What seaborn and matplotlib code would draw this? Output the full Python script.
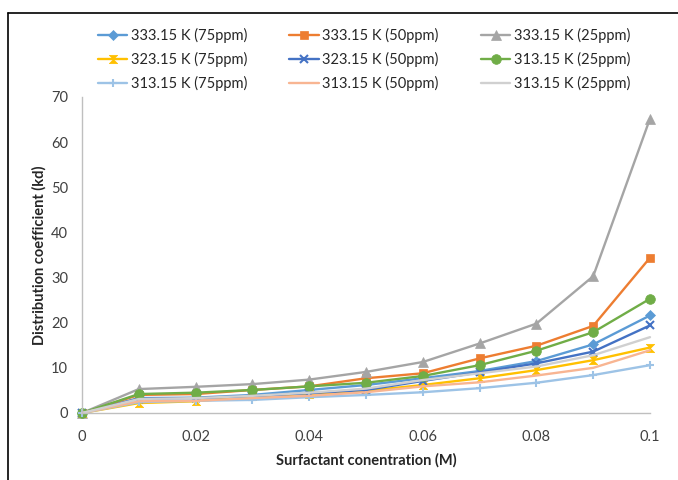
import numpy as np
import pandas as pd
import matplotlib
matplotlib.use('Agg')
import matplotlib.pyplot as plt
from matplotlib.path import Path
from matplotlib.lines import Line2D
import seaborn as sns

# Surfactant concentration (M)
conc = [0, 0.01, 0.02, 0.03, 0.04, 0.05, 0.06, 0.07, 0.08, 0.09, 0.1]

# Distribution coefficient (kd)
k333_75 = [0, 3.3, 3.4, 4.0, 5.1, 6.2, 7.7, 9.3, 11.5, 15.2, 21.6]
k333_50 = [0, 4.0, 4.2, 5.1, 5.9, 7.7, 8.8, 12.1, 14.9, 19.3, 34.4]
k333_25 = [0, 5.3, 5.8, 6.4, 7.4, 9.1, 11.3, 15.4, 19.8, 30.3, 65.2]
k323_75 = [0, 2.2, 2.6, 3.7, 4.2, 4.9, 6.2, 7.7, 9.5, 11.7, 14.5]
k323_50 = [0, 3.2, 3.3, 3.7, 4.4, 5.1, 7.1, 9.0, 11.0, 13.6, 19.4]
k313_25 = [0, 4.2, 4.5, 5.1, 5.9, 6.7, 8.2, 10.6, 13.8, 17.9, 25.3]
k313_75 = [0, 2.4, 2.7, 2.9, 3.5, 4.0, 4.6, 5.5, 6.7, 8.4, 10.6]
k313_50 = [0, 2.6, 2.7, 3.3, 3.8, 4.6, 5.9, 6.8, 8.3, 10.0, 13.9]
k313_25b = [0, 3.1, 3.3, 3.8, 4.5, 5.4, 7.3, 8.8, 10.3, 12.8, 16.8]

labels = ['333.15 K (75ppm)', '333.15 K (50ppm)', '333.15 K (25ppm)',
          '323.15 K (75ppm)', '323.15 K (50ppm)', '313.15 K (25ppm)',
          '313.15 K (75ppm)', '313.15 K (50ppm)', '313.15 K (25ppm)']
values = [k333_75, k333_50, k333_25, k323_75, k323_50, k313_25,
          k313_75, k313_50, k313_25b]

xtick_vals = [0, 0.02, 0.04, 0.06, 0.08, 0.1]
xtick_labels = ['0', '0.02', '0.04', '0.06', '0.08', '0.1']
ytick_vals = [0, 10, 20, 30, 40, 50, 60, 70]

# hourglass marker like Excel's
hourglass = Path([(-1, 1), (1, 1), (0, 0), (1, -1), (-1, -1), (0, 0), (-1, 1)],
                 [Path.MOVETO, Path.LINETO, Path.LINETO, Path.LINETO,
                  Path.LINETO, Path.LINETO, Path.CLOSEPOLY])

styles = [
    ('#5B9BD5', 'D', 5),
    ('#ED7D31', 's', 6),
    ('#A5A5A5', '^', 7),
    ('#FFC000', hourglass, 6),
    ('#4472C4', 'x', 6),
    ('#70AD47', 'o', 7),
    ('#9DC3E6', '+', 6),
    ('#F8B592', None, 0),
    ('#D0D0D0', None, 0),
]

sns.set_style('white')
plt.rcParams['font.family'] = ['Lato', 'DejaVu Sans']

fig = plt.figure(figsize=(6.78, 4.80), dpi=100)
ax = fig.add_axes([82 / 678, 1 - 413 / 480, (650 - 82) / 678, (413 - 97) / 480])

handles = []
for lab, vals, (col, mk, ms) in zip(labels, values, styles):
    df = pd.DataFrame({'conc': conc, 'kd': vals})
    sns.lineplot(data=df, x='conc', y='kd', ax=ax, color=col, linewidth=1.7,
                 marker=mk, markersize=ms, markeredgecolor=col,
                 markeredgewidth=1.5 if mk in ('x', '+') else 0.5,
                 clip_on=False, legend=False)
    handles.append(Line2D([], [], color=col, linewidth=1.7, marker=mk,
                          markersize=ms, markeredgecolor=col,
                          markeredgewidth=1.5 if mk in ('x', '+') else 0.5,
                          label=lab))

ax.set_xlim(0, 0.1)
ax.set_ylim(0, 70)
ax.set_xticks(xtick_vals)
ax.set_xticklabels(xtick_labels)
ax.set_yticks(ytick_vals)
ax.tick_params(axis='both', colors='#BFBFBF', labelcolor='#404040',
               labelsize=10.5, length=4, width=1, direction='out')
ax.tick_params(axis='x', pad=8)
ax.tick_params(axis='y', pad=6)
for side in ['top', 'right']:
    ax.spines[side].set_visible(False)
for side in ['left', 'bottom']:
    ax.spines[side].set_color('#BFBFBF')
    ax.spines[side].set_linewidth(1)

ax.set_xlabel('Surfactant conentration (M)', fontsize=10.5, fontweight='bold',
              color='#262626', labelpad=7)
ax.set_ylabel('Distribution coefficient (kd)', fontsize=10.5, fontweight='bold',
              color='#262626', labelpad=3)

# legend is filled column by column, so reorder to keep rows as in the chart
order = [0, 3, 6, 1, 4, 7, 2, 5, 8]
fig.legend([handles[i] for i in order], [labels[i] for i in order],
           loc='upper left', bbox_to_anchor=(98 / 678, 1 - 28 / 480),
           ncol=3, frameon=False, fontsize=10.5, handlelength=2.0,
           handletextpad=0.25, columnspacing=2.9, labelspacing=0.6,
           borderpad=0, borderaxespad=0, labelcolor='#262626')

# outer chart frame (left and top edges visible)
fig.add_artist(Line2D([8 / 678, 8 / 678], [0, 1 - 13 / 480], color='black',
                      linewidth=1.2, transform=fig.transFigure))
fig.add_artist(Line2D([8 / 678, 1], [1 - 13 / 480, 1 - 13 / 480], color='black',
                      linewidth=1.2, transform=fig.transFigure))

fig.savefig('out.png', dpi=100, facecolor='white')
